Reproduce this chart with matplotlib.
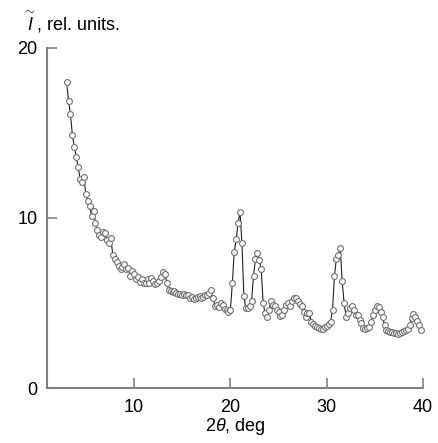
import numpy as np
import matplotlib
matplotlib.use('Agg')
import matplotlib.pyplot as plt

plt.rcParams['font.family'] = ['Liberation Sans', 'DejaVu Sans']
plt.rcParams['mathtext.fontset'] = 'custom'
plt.rcParams['mathtext.rm'] = 'Liberation Sans'
plt.rcParams['mathtext.it'] = 'Liberation Sans:italic'

# diffraction pattern
two_theta = [
    3.0, 3.2, 3.4, 3.6, 3.8, 4.0, 4.2, 4.4, 4.6, 4.8,
    5.0, 5.2, 5.4, 5.6, 5.8, 6.0, 6.2, 6.4, 6.6, 6.8,
    7.0, 7.2, 7.4, 7.6, 7.8, 8.0, 8.2, 8.4, 8.6, 8.8,
    9.0, 9.2, 9.4, 9.6, 9.8, 10.0, 10.2, 10.4, 10.6, 10.8,
    11.0, 11.2, 11.4, 11.6, 11.8, 12.0, 12.2, 12.4, 12.6, 12.8,
    13.0, 13.2, 13.4, 13.6, 13.8, 14.0, 14.2, 14.4, 14.6, 14.8,
    15.0, 15.2, 15.4, 15.6, 15.8, 16.0, 16.2, 16.4, 16.6, 16.8,
    17.0, 17.2, 17.4, 17.6, 17.8, 18.0, 18.2, 18.4, 18.6, 18.8,
    19.0, 19.2, 19.4, 19.6, 19.8, 20.0, 20.2, 20.4, 20.6, 20.8,
    21.0, 21.2, 21.4, 21.6, 21.8, 22.0, 22.2, 22.4, 22.6, 22.8,
    23.0, 23.2, 23.4, 23.6, 23.8, 24.0, 24.2, 24.4, 24.6, 24.8,
    25.0, 25.2, 25.4, 25.6, 25.8, 26.0, 26.2, 26.4, 26.6, 26.8,
    27.0, 27.2, 27.4, 27.6, 27.8, 28.0, 28.2, 28.4, 28.6, 28.8,
    29.0, 29.2, 29.4, 29.6, 29.8, 30.0, 30.2, 30.4, 30.6, 30.8,
    31.0, 31.2, 31.4, 31.6, 31.8, 32.0, 32.2, 32.4, 32.6, 32.8,
    33.0, 33.2, 33.4, 33.6, 33.8, 34.0, 34.2, 34.4, 34.6, 34.8,
    35.0, 35.2, 35.4, 35.6, 35.8, 36.0, 36.2, 36.4, 36.6, 36.8,
    37.0, 37.2, 37.4, 37.6, 37.8, 38.0, 38.2, 38.4, 38.6, 38.8,
    39.0, 39.2, 39.4, 39.6, 39.8,
]
intensity = [
    18.0, 16.9, 16.1, 14.9, 14.2, 13.6, 13.0, 12.3, 12.1, 12.4,
    11.4, 11.0, 10.7, 10.1, 10.4, 9.7, 9.3, 9.0, 8.9, 9.2,
    9.1, 8.7, 8.5, 8.8, 7.8, 7.6, 7.4, 7.2, 7.0, 7.1,
    7.3, 7.0, 7.05, 6.6, 6.9, 6.7, 6.4, 6.5, 6.25, 6.4,
    6.2, 6.15, 6.4, 6.2, 6.45, 6.3, 6.1, 6.15, 6.3, 6.5,
    6.85, 6.7, 6.2, 5.75, 5.7, 5.65, 5.7, 5.6, 5.55, 5.55,
    5.5, 5.55, 5.5, 5.45, 5.3, 5.35, 5.25, 5.3, 5.35, 5.4,
    5.3, 5.35, 5.45, 5.5, 5.6, 5.75, 5.3, 4.85, 4.9, 4.75,
    5.0, 4.9, 4.65, 4.6, 4.45, 4.6, 6.15, 8.0, 8.75, 9.7,
    10.35, 8.5, 5.4, 4.7, 4.7, 4.8, 5.1, 6.6, 7.6, 7.95,
    7.5, 7.0, 5.0, 4.4, 4.2, 4.6, 5.1, 4.9, 4.8, 4.6,
    4.5, 4.25, 4.3, 4.6, 4.9, 5.0, 4.85, 5.1, 5.3, 5.3,
    5.1, 4.95, 4.8, 4.5, 4.2, 4.4, 4.4, 3.9, 3.75, 3.65,
    3.6, 3.55, 3.5, 3.5, 3.6, 3.65, 3.75, 3.9, 4.6, 6.6,
    7.6, 7.8, 8.25, 6.3, 5.0, 4.2, 4.4, 4.7, 4.8, 4.6,
    4.3, 4.3, 4.0, 3.8, 3.55, 3.5, 3.55, 3.6, 3.9, 4.3,
    4.6, 4.8, 4.75, 4.5, 4.2, 3.7, 3.4, 3.35, 3.3, 3.3,
    3.25, 3.25, 3.2, 3.25, 3.3, 3.35, 3.4, 3.5, 3.7, 4.1,
    4.35, 4.2, 3.95, 3.7, 3.4,
]

x_ticks = [10, 20, 30, 40]
y_ticks = [0, 10, 20]

fig = plt.figure(figsize=(4.38, 4.43), dpi=100)
ax = fig.add_axes([0.108, 0.124, 0.858, 0.768])

ax.plot(two_theta, intensity, '-', color='#222222', lw=0.8, marker='o',
        markersize=4.2, markerfacecolor='white', markeredgecolor='#707070',
        markeredgewidth=0.8, clip_on=False)

ax.set_xlim(1, 40)
ax.set_ylim(0, 20)
ax.set_xticks(x_ticks)
ax.set_yticks(y_ticks)

for s in ['top', 'right']:
    ax.spines[s].set_visible(False)
for s in ['left', 'bottom']:
    ax.spines[s].set_color('#808080')
    ax.spines[s].set_linewidth(1.5)

ax.tick_params(axis='both', direction='in', length=7, width=1.2,
               color='#808080', labelsize=13)
ax.tick_params(axis='x', pad=8)
ax.tick_params(axis='y', pad=7)

ax.set_xlabel(r'$2\theta$, deg', fontsize=13, labelpad=0)

# y label sits above the axis, tilde over the italic I
fig.text(0.05, 0.932, r'$\overset{\sim}{I}$, rel. units.', fontsize=13,
         ha='left', va='baseline')

plt.savefig('out.png', dpi=100)
